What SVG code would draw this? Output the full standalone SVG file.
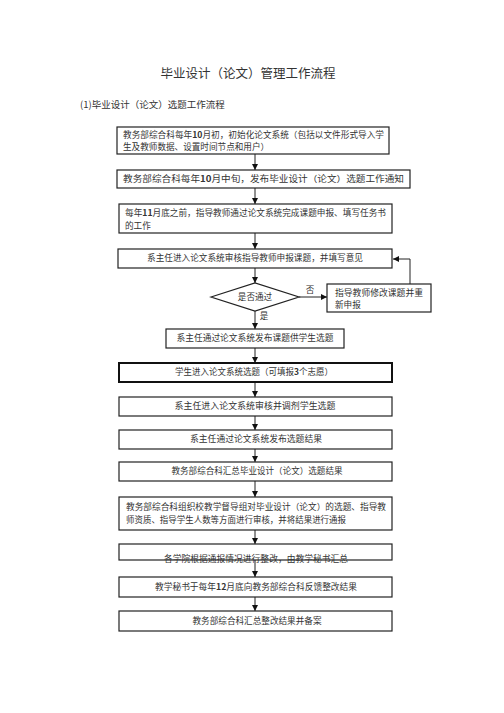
<svg xmlns="http://www.w3.org/2000/svg" width="504" height="713" viewBox="0 0 504 713">
<style>
text{font-family:"Noto Sans CJK SC","Liberation Serif",serif;fill:#333}
.t{font-size:8.6px}
.c{text-anchor:middle}
.b{fill:#fff;stroke:#222;stroke-width:1.2}
.bb{fill:#fff;stroke:#111;stroke-width:2}
.l{fill:none;stroke:#222;stroke-width:1}
.n{font-weight:bold}
</style>
<defs>
<marker id="ah" viewBox="0 0 6 6" refX="6" refY="3" markerWidth="6" markerHeight="6" markerUnits="userSpaceOnUse" orient="auto">
<path d="M0,0L6,3L0,6z" fill="#111"/>
</marker>
</defs>
<rect width="504" height="713" fill="#fff"/>
<text x="248" y="78" class="c" style="font-size:12.5px">毕业设计（论文）管理工作流程</text>
<text x="80" y="108" style="font-size:9.5px">(1)毕业设计（论文）选题工作流程</text>

<g id="connectors">
<line class="l" x1="255" y1="154" x2="255" y2="170" marker-end="url(#ah)"/>
<line class="l" x1="255" y1="188" x2="255" y2="204" marker-end="url(#ah)"/>
<line class="l" x1="255" y1="233" x2="255" y2="249" marker-end="url(#ah)"/>
<line class="l" x1="255" y1="268" x2="255" y2="283" marker-end="url(#ah)"/>
<line class="l" x1="255" y1="311" x2="255" y2="329" marker-end="url(#ah)"/>
<line class="l" x1="255" y1="348" x2="255" y2="363" marker-end="url(#ah)"/>
<line class="l" x1="255" y1="382" x2="255" y2="397" marker-end="url(#ah)"/>
<line class="l" x1="255" y1="416" x2="255" y2="430" marker-end="url(#ah)"/>
<line class="l" x1="255" y1="449" x2="255" y2="462" marker-end="url(#ah)"/>
<line class="l" x1="255" y1="481" x2="255" y2="497" marker-end="url(#ah)"/>
<line class="l" x1="255" y1="530" x2="255" y2="544" marker-end="url(#ah)"/>
<line class="l" x1="255" y1="560" x2="255" y2="577" marker-end="url(#ah)"/>
<line class="l" x1="255" y1="597" x2="255" y2="611" marker-end="url(#ah)"/>
<line class="l" x1="299" y1="297" x2="327" y2="297" marker-end="url(#ah)"/>
<polyline class="l" points="410,284 410,259 393,259" marker-end="url(#ah)"/>
<text x="310" y="293" class="t c">否</text>
<text x="264" y="319" class="t c">是</text>
</g>

<g id="n1"><rect class="b" x="117" y="127" width="272" height="27"/>
<text x="123" y="138" class="t" textLength="261" lengthAdjust="spacingAndGlyphs">教务部综合科每年<tspan class="n">10</tspan>月初，初始化论文系统（包括以文件形式导入学</text>
<text x="123" y="150" class="t">生及教师数据、设置时间节点和用户）</text></g>

<g id="n2"><rect class="b" x="117" y="170" width="293" height="18"/>
<text x="123" y="182" class="t" textLength="281" lengthAdjust="spacingAndGlyphs">教务部综合科每年<tspan class="n">10</tspan>月中旬，发布毕业设计（论文）选题工作通知</text></g>

<g id="n3"><rect class="b" x="119" y="204" width="273" height="29"/>
<text x="125" y="216" class="t" textLength="261" lengthAdjust="spacingAndGlyphs">每年<tspan class="n">11</tspan>月底之前，指导教师通过论文系统完成课题申报、填写任务书</text>
<text x="125" y="229" class="t">的工作</text></g>

<g id="n4"><rect class="b" x="118" y="249" width="274" height="19"/>
<text x="255" y="261" class="t c" textLength="216" lengthAdjust="spacingAndGlyphs">系主任进入论文系统审核指导教师申报课题，并填写意见</text></g>

<g id="n5"><polygon class="b" points="211,297 255,283 299,297 255,311"/>
<text x="255" y="300" class="t c">是否通过</text></g>

<g id="n6"><rect class="b" x="327" y="284" width="104" height="28"/>
<text x="335" y="296" class="t" textLength="88" lengthAdjust="spacingAndGlyphs">指导教师修改课题并重</text>
<text x="335" y="308" class="t">新申报</text></g>

<g id="n7"><rect class="b" x="166" y="329" width="178" height="19"/>
<text x="255" y="341" class="t c" textLength="157" lengthAdjust="spacingAndGlyphs">系主任通过论文系统发布课题供学生选题</text></g>

<g id="n8"><rect class="bb" x="119" y="363" width="273" height="19"/>
<text x="254" y="375" class="t c" textLength="158" lengthAdjust="spacingAndGlyphs">学生进入论文系统选题（可填报<tspan class="n">3</tspan>个志愿）</text></g>

<g id="n9"><rect class="b" x="119" y="397" width="273" height="19"/>
<text x="255" y="409" class="t c" textLength="161" lengthAdjust="spacingAndGlyphs">系主任进入论文系统审核并调剂学生选题</text></g>

<g id="n10"><rect class="b" x="119" y="430" width="273" height="19"/>
<text x="256" y="442" class="t c" textLength="132" lengthAdjust="spacingAndGlyphs">系主任通过论文系统发布选题结果</text></g>

<g id="n11"><rect class="b" x="119" y="462" width="273" height="19"/>
<text x="257" y="474" class="t c" textLength="171" lengthAdjust="spacingAndGlyphs">教务部综合科汇总毕业设计（论文）选题结果</text></g>

<g id="n12"><rect class="b" x="119" y="497" width="273" height="33"/>
<text x="126" y="510" class="t" textLength="260" lengthAdjust="spacingAndGlyphs">教务部综合科组织校教学督导组对毕业设计（论文）的选题、指导教</text>
<text x="126" y="523" class="t" textLength="220" lengthAdjust="spacingAndGlyphs">师资质、指导学生人数等方面进行审核，并将结果进行通报</text></g>

<g id="n13"><rect class="b" x="119" y="544" width="273" height="16"/>
<text x="256" y="562" class="t c" textLength="184" lengthAdjust="spacingAndGlyphs">各学院根据通报情况进行整改，由教学秘书汇总</text></g>

<g id="n14"><rect class="b" x="119" y="577" width="273" height="20"/>
<text x="256" y="590" class="t c" textLength="202" lengthAdjust="spacingAndGlyphs">教学秘书于每年<tspan class="n">12</tspan>月底向教务部综合科反馈整改结果</text></g>

<g id="n15"><rect class="b" x="119" y="611" width="273" height="20"/>
<text x="257" y="624" class="t c" textLength="129" lengthAdjust="spacingAndGlyphs">教务部综合科汇总整改结果并备案</text></g>
</svg>
